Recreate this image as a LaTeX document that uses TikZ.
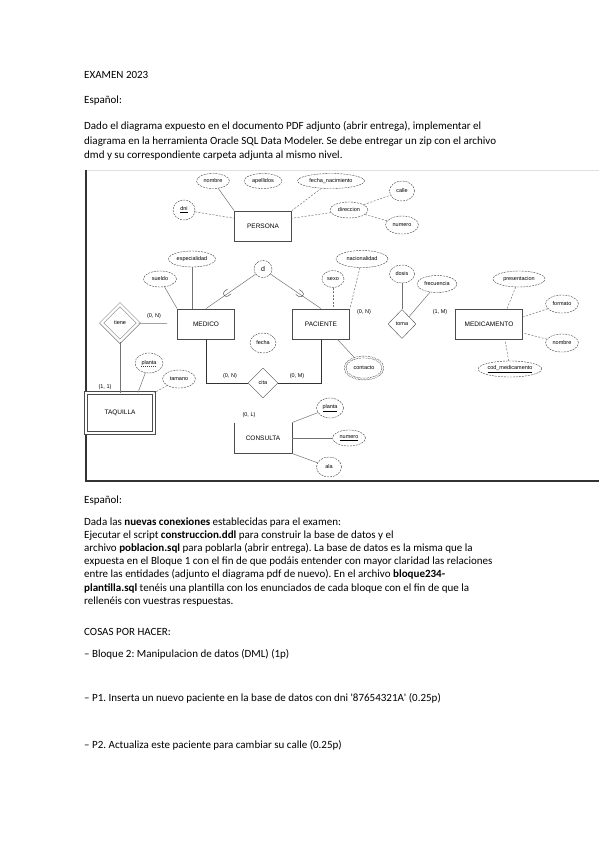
\documentclass[tikz,border=0pt]{standalone}
\usepackage{fontspec}
\setmainfont{Carlito}
\newfontfamily\erfont{Liberation Sans}
\usetikzlibrary{positioning, shapes.geometric}
\frenchspacing

\begin{document}
\begin{tikzpicture}[x=1pt, y=-1pt,
    txt/.style={anchor=base west, inner sep=0pt, font=\fontsize{11}{13}\selectfont},
    entity/.style={rectangle, draw=black!70, line width=0.8pt, minimum width=57pt, minimum height=30pt, font=\erfont\fontsize{6.5}{7}\selectfont},
    attr/.style={ellipse, draw=black!75, dash pattern=on 2pt off 1pt, inner sep=0pt, font=\erfont\fontsize{5.5}{6}\selectfont},
    rel/.style={diamond, draw=black!70, inner sep=0pt, aspect=1, font=\erfont\fontsize{5.5}{6}\selectfont},
    card/.style={inner sep=0pt, font=\erfont\fontsize{5.5}{6}\selectfont},
    link/.style={draw=black!55, line width=0.5pt},
    dlink/.style={link, dash pattern=on 2pt off 1.5pt}]

        \useasboundingbox (0,0) rectangle (599,848);

        % Text above the diagram
        \node[txt] (title) at (84,79) {EXAMEN 2023};
        \node[txt] (lang1) at (84,104) {Español:};
        \foreach \yy/\ln [count=\i] in {
            130/{Dado el diagrama expuesto en el documento PDF adjunto (abrir entrega), implementar el},
            144/{diagrama en la herramienta Oracle SQL Data Modeler. Se debe entregar un zip con el archivo},
            158/{dmd y su correspondiente carpeta adjunta al mismo nivel.}}
            \node[txt] (pa\i) at (84,\yy) {\ln};

        % Frame of the diagram
        \draw[black!12, line width=1pt] (86,170) -- (599,170);
        \draw[black!80, line width=1.6pt] (86,170) -- (86,481) -- (599,481);

        % Entity nodes
        \node[entity] (persona) at (263,226) {PERSONA};
        \node[entity] (medico) at (206,324) {MEDICO};
        \node[entity] (paciente) at (321,324) {PACIENTE};
        \node[entity, minimum width=67pt] (medicamento) at (489,324) {MEDICAMENTO};
        \node[entity, double, double distance=2pt, minimum width=68pt, minimum height=40pt] (taquilla) at (120,413) {TAQUILLA};
        \node[entity, draw=none] (consulta) at (263,438) {CONSULTA};

        % Relationship nodes
        \node[rel, double, double distance=2.5pt, minimum width=37pt, minimum height=37pt] (tiene) at (120,323) {tiene};
        \node[rel, minimum width=30pt, minimum height=30pt] (cita) at (263,383) {cita};
        \node[rel, minimum width=28pt, minimum height=29pt] (toma) at (402,324) {toma};
        \node[attr, minimum width=18pt, minimum height=17pt, font=\erfont\fontsize{7}{7}\selectfont] (disj) at (263,269) {d};

        % Attributes of PERSONA
        \node[attr, minimum width=33pt, minimum height=15pt] (nombre) at (213,181) {nombre};
        \node[attr, minimum width=38pt, minimum height=15pt] (apellidos) at (263,181) {apellidos};
        \node[attr, minimum width=67pt, minimum height=15pt] (fnac) at (331,181) {fecha\_nacimiento};
        \node[attr, minimum width=22pt, minimum height=20pt] (dni) at (184,210) {\underline{dni}};
        \node[attr, minimum width=38pt, minimum height=16pt] (direccion) at (349,210) {direccion};
        \node[attr, minimum width=25pt, minimum height=20pt] (calle) at (402,191) {calle};
        \node[attr, minimum width=33pt, minimum height=18pt] (numero) at (402,225) {numero};

        % Attributes of MEDICO and PACIENTE
        \node[attr, minimum width=47pt, minimum height=16pt] (especialidad) at (192,259) {especialidad};
        \node[attr, minimum width=33pt, minimum height=16pt] (sueldo) at (160,279) {sueldo};
        \node[attr, minimum width=22pt, minimum height=17pt] (sexo) at (333,279) {sexo};
        \node[attr, minimum width=52pt, minimum height=17pt] (nacionalidad) at (362,259) {nacionalidad};
        \node[attr, double, double distance=1.4pt, minimum width=38pt, minimum height=22pt] (contacto) at (364,368) {contacto};
        \node[attr, minimum width=26pt, minimum height=20pt] (fecha) at (263,343) {fecha};

        % Attributes of TAQUILLA and CONSULTA
        \node[attr, minimum width=28pt, minimum height=20pt] (plantat) at (149,363) {planta};
        \draw[black!75, dash pattern=on 1pt off 1pt] ([xshift=-8pt, yshift=-3pt]plantat.center) -- ([xshift=8pt, yshift=-3pt]plantat.center);
        \node[attr, minimum width=33pt, minimum height=18pt] (tamano) at (179,379) {tamano};
        \node[attr, minimum width=27pt, minimum height=20pt] (plantac) at (330,408) {\underline{planta}};
        \node[attr, minimum width=33pt, minimum height=16pt] (numeroc) at (349,438) {\underline{numero}};
        \node[attr, minimum width=25pt, minimum height=20pt] (ala) at (329,467) {ala};

        % Attributes of toma and MEDICAMENTO
        \node[attr, minimum width=25pt, minimum height=18pt] (dosis) at (402,274) {dosis};
        \node[attr, minimum width=40pt, minimum height=17pt] (frecuencia) at (437,284) {frecuencia};
        \node[attr, minimum width=52pt, minimum height=16pt] (presentacion) at (519,279) {presentacion};
        \node[attr, minimum width=33pt, minimum height=18pt] (formato) at (562,304) {formato};
        \node[attr, minimum width=33pt, minimum height=18pt] (nombremed) at (562,343) {nombre};
        \node[attr, minimum width=53pt, minimum height=16pt] (codmed) at (510,369) {\underline{cod\_medicamento}};

        % Cardinalities
        \node[card] (c1) at (154,316) {(0, N)};
        \node[card] (c2) at (105,387) {(1, 1)};
        \node[card] (c3) at (230,376) {(0, N)};
        \node[card] (c4) at (297,376) {(0, M)};
        \node[card] (c5) at (364,312) {(0, N)};
        \node[card] (c6) at (440,312) {(1, M)};
        \node[card] (c7) at (249,415) {(0, L)};

        % PERSONA links
        \draw[link] (nombre) -- (persona.north west);
        \draw[dlink] (fnac) -- (persona.north east);
        \draw[dlink] (dni) -- (persona.165);
        \draw[dlink] (direccion) -- (persona.15);
        \draw[dlink] (direccion) -- (calle);
        \draw[dlink] (direccion) -- (numero);

        % Specialisation
        \draw[link] (medico.north) -- (disj) node[sloped, allow upside down, pos=0.42, inner sep=0pt, font=\fontsize{11}{11}\selectfont] (s1) {$\subset$};
        \draw[link] (paciente.north) -- (disj) node[sloped, allow upside down, pos=0.41, inner sep=0pt, font=\fontsize{11}{11}\selectfont] (s2) {$\subset$};

        % MEDICO and PACIENTE links
        \draw[link] (especialidad) -- (especialidad |- medico.north);
        \draw[link] (sueldo) -- (medico.north west);
        \draw[dlink] (sexo) -- (sexo |- paciente.north);
        \draw[dlink] (nacionalidad) -- (paciente.north east);
        \draw[link] (contacto) -- (paciente.-43);

        % tiene and TAQUILLA
        \draw[link, shorten >=10pt] (tiene) -- (medico);
        \draw[link] (tiene) -- (taquilla);
        \draw[link] (plantat) -- ([xshift=18pt]taquilla.north);
        \draw[dlink] (tamano) -- (taquilla.north east);

        % cita
        \draw[black!80, line width=0.8pt] (medico.south) |- (cita.west);
        \draw[black!80, line width=0.8pt] (paciente.south) |- (cita.east);

        % CONSULTA
        \draw[black!70, line width=0.8pt] (consulta.north west) -- (consulta.south west) -- (consulta.south east) -- (consulta.north east);
        \draw[link] (consulta.north east) -- (plantac);
        \draw[link] (consulta.east) -- (numeroc);
        \draw[link] (consulta.south east) -- (ala);

        % toma and MEDICAMENTO
        \draw[link] (dosis) -- (toma.north);
        \draw[link] (frecuencia) -- (toma.north east);
        \draw[dlink] (presentacion) -- ([xshift=18pt]medicamento.north);
        \draw[dlink] (formato) -- ([yshift=7pt]medicamento.east);
        \draw[dlink] (nombremed) -- ([yshift=-9pt]medicamento.east);
        \draw[dlink] (codmed) -- ([xshift=16pt]medicamento.south);

        % Text below the diagram
        \node[txt] (lang2) at (84,503) {Español:};
        \foreach \yy/\ln [count=\i] in {
            525/{Dada las \textbf{nuevas conexiones} establecidas para el examen:},
            538.2/{Ejecutar el script \textbf{construccion.ddl} para construir la base de datos y el},
            551.4/{archivo \textbf{poblacion.sql} para poblarla (abrir entrega). La base de datos es la misma que la},
            564.6/{expuesta en el Bloque 1 con el fin de que podáis entender con mayor claridad las relaciones},
            577.8/{entre las entidades (adjunto el diagrama pdf de nuevo). En el archivo \textbf{bloque234-}},
            591/{\textbf{plantilla.sql} tenéis una plantilla con los enunciados de cada bloque con el fin de que la},
            604.2/{rellenéis con vuestras respuestas.}}
            \node[txt] (pb\i) at (84,\yy) {\ln};

        \node[txt] (todo) at (84,635) {COSAS POR HACER:};
        \node[txt] (q0) at (84,657) {– Bloque 2: Manipulacion de datos (DML) (1p)};
        \node[txt] (q1) at (84,701) {– P1. Inserta un nuevo paciente en la base de datos con dni \textquotesingle 87654321A\textquotesingle{} (0.25p)};
        \node[txt] (q2) at (84,748) {– P2. Actualiza este paciente para cambiar su calle (0.25p)};

    \end{tikzpicture}
\end{document}
